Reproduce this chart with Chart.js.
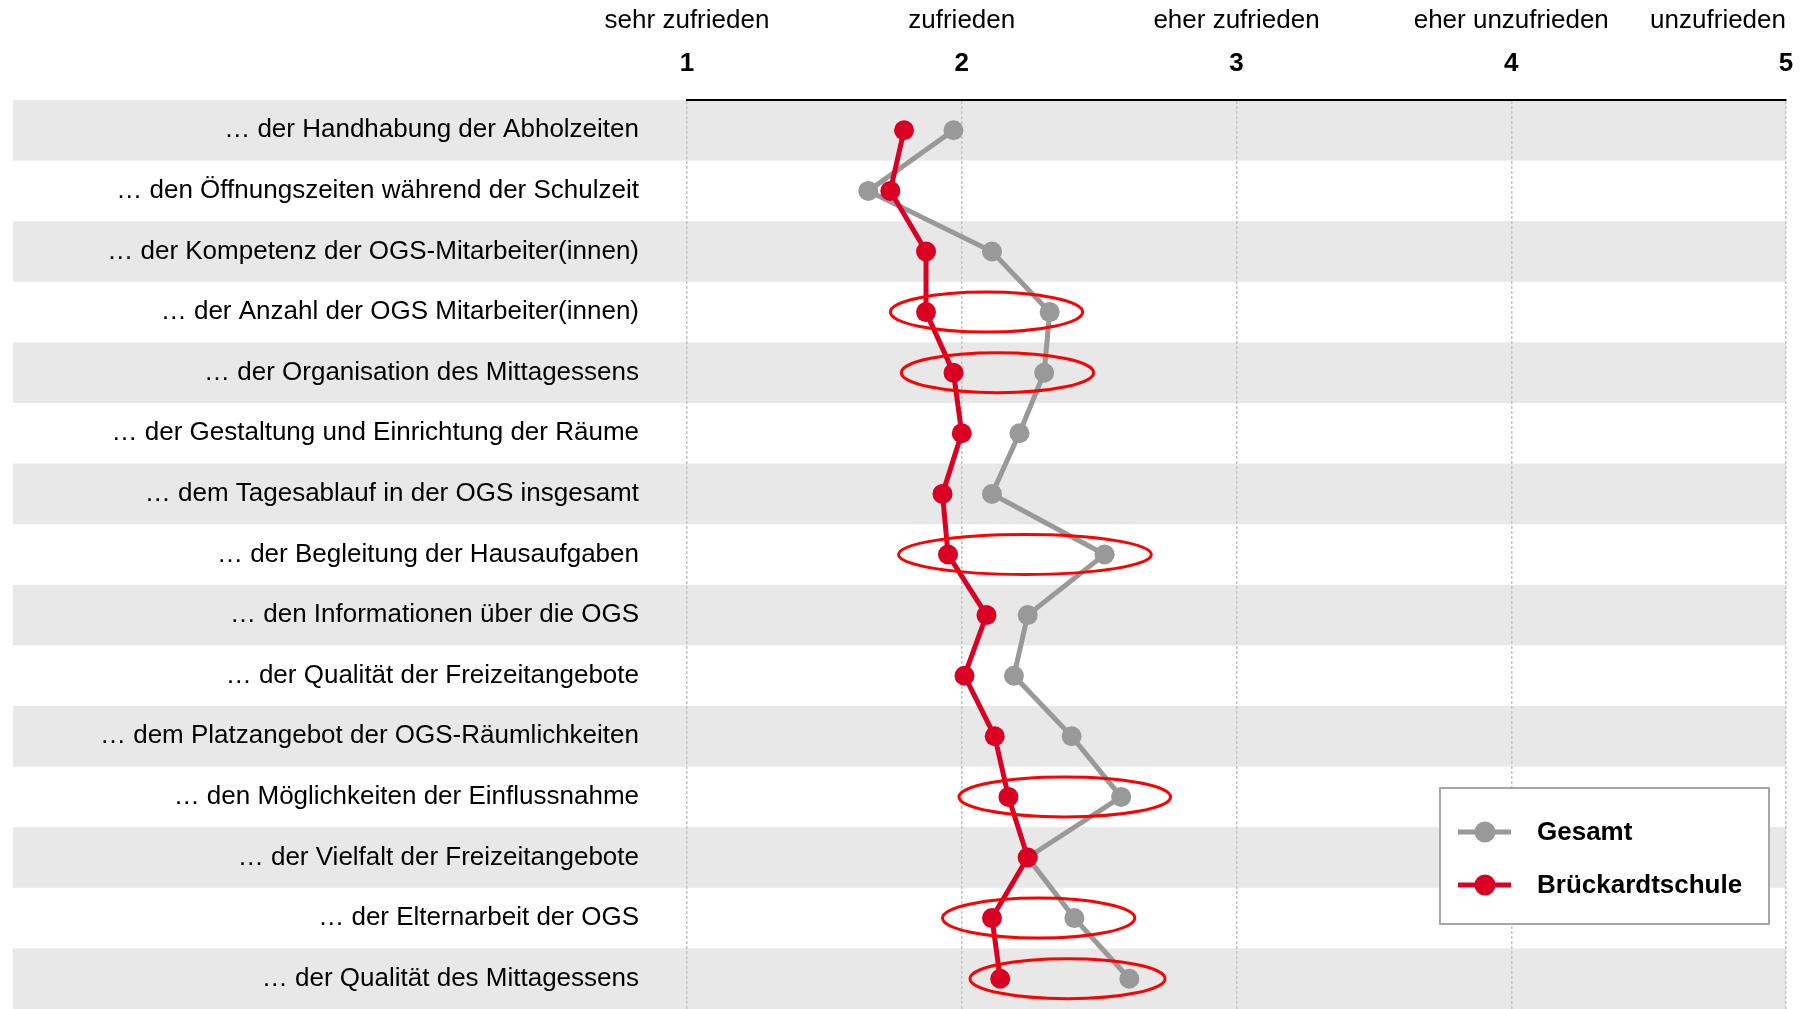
<!DOCTYPE html>
<html lang="de">
<head>
<meta charset="utf-8">
<title>Zufriedenheit mit der OGS</title>
<script src="https://cdn.jsdelivr.net/npm/chart.js@4.4.1/dist/chart.umd.min.js"></script>
<style>
  html, body { margin: 0; padding: 0; background: #fff; }
  #chart { display: block; }
</style>
</head>
<body>
<canvas id="chart" width="1803" height="1009"></canvas>
<script>
// Rows, top to bottom
const items = [
  "… der Handhabung der Abholzeiten",
  "… den Öffnungszeiten während der Schulzeit",
  "… der Kompetenz der OGS-Mitarbeiter(innen)",
  "… der Anzahl der OGS Mitarbeiter(innen)",
  "… der Organisation des Mittagessens",
  "… der Gestaltung und Einrichtung der Räume",
  "… dem Tagesablauf in der OGS insgesamt",
  "… der Begleitung der Hausaufgaben",
  "… den Informationen über die OGS",
  "… der Qualität der Freizeitangebote",
  "… dem Platzangebot der OGS-Räumlichkeiten",
  "… den Möglichkeiten der Einflussnahme",
  "… der Vielfalt der Freizeitangebote",
  "… der Elternarbeit der OGS",
  "… der Qualität des Mittagessens"
];

// Rating scale (1 = best)
const scaleTicks = [1, 2, 3, 4, 5];
const scaleWords = ["sehr zufrieden", "zufrieden", "eher zufrieden", "eher unzufrieden", "unzufrieden"];

// Mean ratings
const gesamt     = [1.97, 1.66, 2.11, 2.32, 2.30, 2.21, 2.11, 2.52, 2.24, 2.19, 2.40, 2.58, 2.24, 2.41, 2.61];
const brueckardt = [1.79, 1.74, 1.87, 1.87, 1.97, 2.00, 1.93, 1.95, 2.09, 2.01, 2.12, 2.17, 2.24, 2.11, 2.14];

// Rows circled in red, with the rating range each ring spans
const ringRows = [3, 4, 7, 11, 13, 14];
const ringFrom = [1.74, 1.78, 1.77, 1.99, 1.93, 2.03];
const ringTo   = [2.44, 2.48, 2.69, 2.76, 2.63, 2.74];

const FONT = '"Liberation Sans", Arial, Helvetica, sans-serif';
const GREY = '#999999';
const RED = '#da0023';

// grey stripes behind every other row
const bands = {
  id: 'bands',
  beforeDraw(chart) {
    const { ctx, chartArea, scales: { y } } = chart;
    const h = (chartArea.bottom - chartArea.top) / items.length;
    ctx.save();
    ctx.fillStyle = '#fff';
    ctx.fillRect(0, 0, chart.width, chart.height);
    ctx.fillStyle = '#e8e8e8';
    items.forEach((_, i) => {
      if (i % 2) return;
      const yc = y.getPixelForValue(i);
      ctx.fillRect(13, yc - h / 2, chartArea.right - 13, h);
    });
    ctx.restore();
  }
};

// red rings
const rings = {
  id: 'rings',
  afterDatasetsDraw(chart) {
    const { ctx, chartArea, scales: { x, y } } = chart;
    const h = (chartArea.bottom - chartArea.top) / items.length;
    ctx.save();
    ctx.strokeStyle = '#ff0000';
    ctx.lineWidth = 3;
    ringRows.forEach((r, i) => {
      const x0 = x.getPixelForValue(ringFrom[i]);
      const x1 = x.getPixelForValue(ringTo[i]);
      ctx.beginPath();
      ctx.ellipse((x0 + x1) / 2, y.getPixelForValue(r), (x1 - x0) / 2, h * 0.33, 0, 0, Math.PI * 2);
      ctx.stroke();
    });
    ctx.restore();
  }
};

// verbal scale words above the numbers, plus boxed legend
const extras = {
  id: 'extras',
  afterDraw(chart) {
    const { ctx, chartArea, scales: { x } } = chart;
    ctx.save();
    ctx.font = '26px ' + FONT;
    ctx.fillStyle = '#000';
    ctx.textBaseline = 'alphabetic';
    ctx.textAlign = 'left';
    scaleWords.forEach((w, i) => {
      const wd = ctx.measureText(w).width;
      const cx = x.getPixelForValue(scaleTicks[i]);
      ctx.fillText(w, Math.min(cx - wd / 2, chartArea.right - wd), 28);
    });

    // legend
    ctx.fillStyle = '#fff';
    ctx.fillRect(1440, 788, 329, 136);
    ctx.strokeStyle = '#a6a6a6';
    ctx.lineWidth = 2;
    ctx.strokeRect(1440, 788, 329, 136);
    ctx.font = 'bold 26px ' + FONT;
    ctx.textBaseline = 'middle';
    chart.data.datasets.forEach((ds, i) => {
      const yc = 832 + i * 53;
      ctx.strokeStyle = ds.borderColor;
      ctx.lineWidth = 5;
      ctx.beginPath();
      ctx.moveTo(1458, yc);
      ctx.lineTo(1511, yc);
      ctx.stroke();
      ctx.fillStyle = ds.pointBackgroundColor;
      ctx.beginPath();
      ctx.arc(1485, yc, 10.5, 0, Math.PI * 2);
      ctx.fill();
      ctx.fillStyle = '#000';
      ctx.fillText(ds.label, 1537, yc + 1);
    });
    ctx.restore();
  }
};

// drop the label padding Chart.js reserves round each axis
const noPad = s => {
  s.paddingTop = 0;
  s.paddingBottom = 0;
  s.paddingLeft = 0;
  s.paddingRight = 0;
};

new Chart(document.getElementById('chart'), {
  type: 'line',
  data: {
    labels: items,
    datasets: [
      {
        label: 'Gesamt',
        data: gesamt,
        borderColor: GREY,
        pointBackgroundColor: GREY,
        borderWidth: 5,
        pointRadius: 10,
        pointBorderWidth: 0,
        order: 2
      },
      {
        label: 'Brückardtschule',
        data: brueckardt,
        borderColor: RED,
        pointBackgroundColor: RED,
        borderWidth: 5,
        pointRadius: 10,
        pointBorderWidth: 0,
        order: 1
      }
    ]
  },
  options: {
    indexAxis: 'y',
    responsive: false,
    devicePixelRatio: 1,
    animation: false,
    // plot runs right down to the bottom edge of the picture
    layout: { autoPadding: false, padding: { left: 0, right: 17, top: 0, bottom: 0 } },
    plugins: {
      legend: { display: false },
      tooltip: { enabled: false }
    },
    scales: {
      x: {
        type: 'linear',
        position: 'top',
        min: 1,
        max: 5,
        afterFit(s) {
          s.height = 100;
          noPad(s);
        },
        ticks: {
          stepSize: 1,
          padding: 21,
          color: '#000',
          font: { family: FONT, size: 26, weight: 'bold' }
        },
        grid: { color: '#c4c4c4', lineWidth: 1.5, drawTicks: false },
        border: { display: true, color: '#000', width: 2, dash: [3, 2] }
      },
      y: {
        type: 'category',
        offset: true,
        afterFit(s) {
          s.width = 687;
          noPad(s);
        },
        ticks: {
          padding: 48,
          autoSkip: false,
          color: '#000',
          font: { family: FONT, size: 26 }
        },
        grid: { display: false, drawTicks: false },
        border: { display: false }
      }
    }
  },
  plugins: [bands, rings, extras]
});
</script>
</body>
</html>
